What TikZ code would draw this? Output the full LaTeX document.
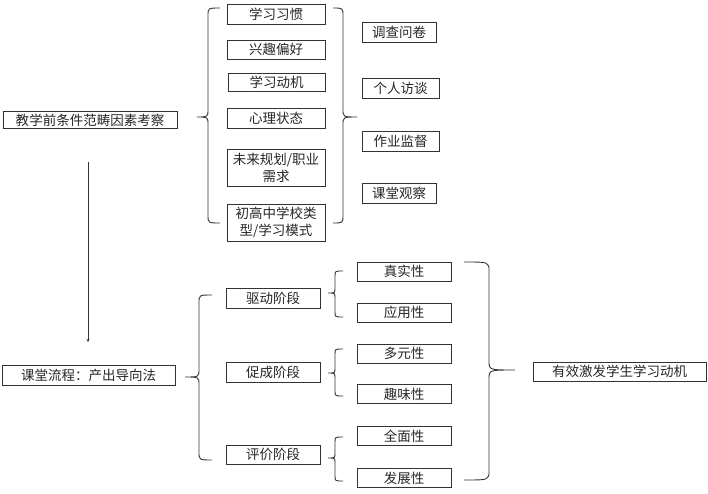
\documentclass[tikz,border=0pt]{standalone}
\usepackage{fontspec}
\setmainfont{Noto Sans CJK SC}
\usetikzlibrary{arrows.meta}
\definecolor{ln}{HTML}{333333}
\newcommand{\BrShape}[7]{% ex, vx, tx, ytop, ytip, ybot, r
  \draw[brc] (#1,#4) .. controls (#2,#4) .. (#2,#4+#7) -- (#2,#5-#7)
    .. controls (#2,#5) .. (#3,#5) .. controls (#2,#5) .. (#2,#5+#7)
    -- (#2,#6-#7) .. controls (#2,#6) .. (#1,#6);}
\begin{document}
\begin{tikzpicture}[x=1pt,y=-1pt,
  box/.style={draw=ln, line width=0.9pt, rectangle, inner sep=0pt, align=center,
    font=\fontsize{13.5}{17}\selectfont, text=black!85},
  brc/.style={draw=ln, line width=0.9pt},
  arr/.style={draw=ln, line width=0.9pt, -{Stealth[length=3pt,width=3pt]}}]
\useasboundingbox (0,0) rectangle (708,494);
% top section
\node[box, minimum width=174pt, minimum height=17pt] (pre) at (90,120) {教学前条件范畴因素考察};
\node[box, minimum width=98pt, minimum height=20pt] (habit) at (276,14) {学习习惯};
\node[box, minimum width=98pt, minimum height=19pt] (interest) at (276,49.5) {兴趣偏好};
\node[box, minimum width=97pt, minimum height=18pt] (motiv) at (276.5,82) {学习动机};
\node[box, minimum width=98pt, minimum height=20pt] (mental) at (276,118) {心理状态};
\node[box, minimum width=98pt, minimum height=37pt] (future) at (276,167.5) {未来规划/职业\\需求};
\node[box, minimum width=98pt, minimum height=37pt] (school) at (276,222.5) {初高中学校类\\型/学习模式};
\node[box, minimum width=74pt, minimum height=20pt] (survey) at (399,32) {调查问卷};
\node[box, minimum width=77pt, minimum height=20pt] (interview) at (400.5,88) {个人访谈};
\node[box, minimum width=77pt, minimum height=20pt] (homework) at (400.5,141) {作业监督};
\node[box, minimum width=74pt, minimum height=20pt] (observe) at (399,193) {课堂观察};
\BrShape{220}{208}{197}{8}{117}{223}{8}
\BrShape{333}{343}{357}{8}{117}{223}{8}
% arrow
\coordinate (arrS) at (88,162);
\coordinate (arrE) at (88,342);
\draw[arr] (arrS) -- (arrE);
% bottom section
\node[box, minimum width=173pt, minimum height=20pt] (flow) at (88.5,375) {课堂流程：产出导向法};
\node[box, minimum width=94pt, minimum height=20pt] (drive) at (273,298) {驱动阶段};
\node[box, minimum width=94pt, minimum height=20pt] (promote) at (273,372) {促成阶段};
\node[box, minimum width=94pt, minimum height=19pt] (eval) at (273,454.5) {评价阶段};
\node[box, minimum width=94pt, minimum height=19pt] (real) at (404,271.5) {真实性};
\node[box, minimum width=94pt, minimum height=19pt] (apply) at (404,312.5) {应用性};
\node[box, minimum width=94pt, minimum height=19pt] (multi) at (404,353.5) {多元性};
\node[box, minimum width=94pt, minimum height=19pt] (fun) at (404,394) {趣味性};
\node[box, minimum width=94pt, minimum height=19pt] (comp) at (404,436) {全面性};
\node[box, minimum width=94pt, minimum height=19pt] (dev) at (404,478) {发展性};
\node[box, minimum width=173pt, minimum height=19pt] (goal) at (619.5,371.5) {有效激发学生学习动机};
\BrShape{212}{199}{185}{295}{377}{460}{8}
\BrShape{343}{335}{328}{271}{293}{317}{5}
\BrShape{343}{335}{328}{349}{373}{396}{5}
\BrShape{343}{335}{328}{437}{458}{481}{5}
\BrShape{464}{489}{515}{262}{370}{480}{9}
\end{tikzpicture}
\end{document}
